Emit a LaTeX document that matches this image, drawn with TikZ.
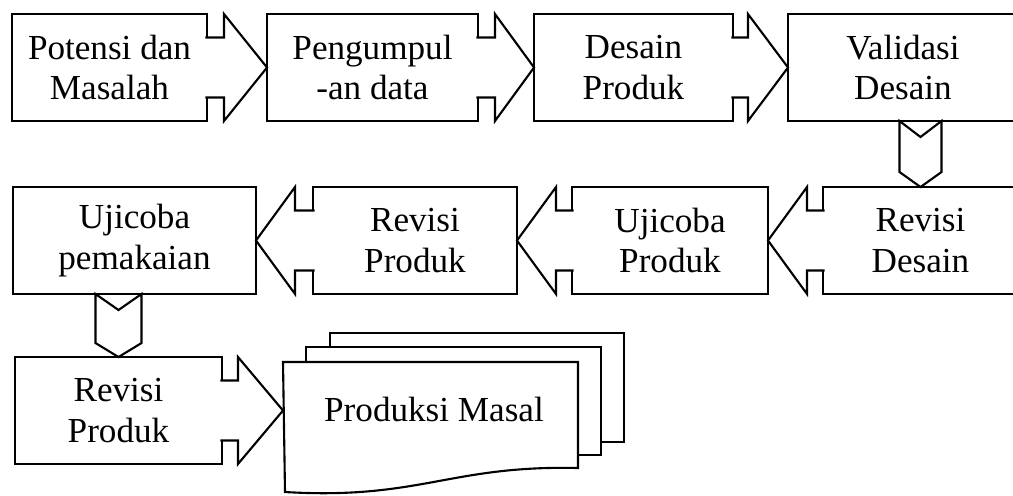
\documentclass[tikz,border=0pt]{standalone}
\usepackage{fontspec}
\setmainfont{Liberation Serif}

\begin{document}
\begin{tikzpicture}[x=0.02cm,y=-0.02cm,
  box/.style={draw,line width=1.2pt,minimum height=2.14cm,align=center,inner sep=0pt,outer sep=0pt,font=\fontsize{20}{23}\selectfont},
  conn/.style={draw,fill=white,line width=1.2pt},
  page/.style={draw,fill=white,line width=1.2pt}]
\useasboundingbox (0,0) rectangle (1013,495);
\clip (0,0) rectangle (1013,495);

\node[box,minimum width=3.9cm] (potensi) at (109.5,67.5) {Potensi dan\\Masalah};
\node[box,minimum width=4.22cm] (kumpul) at (372.5,67.5) {Pengumpul\\-an data};
\node[box,minimum width=3.98cm] (desain) at (633.5,67.5) {Desain\\Produk};
\node[box,minimum width=4.6cm] (validasi) at (903,67.5) {Validasi\\Desain};

\node[box,minimum width=4.86cm] (pakai) at (134.5,240.5) {Ujicoba\\pemakaian};
\node[box,minimum width=4.08cm] (revprod) at (415,240.5) {Revisi\\Produk};
\node[box,minimum width=3.92cm] (ujiprod) at (670,240.5) {Ujicoba\\Produk};
\node[box,minimum width=3.9cm] (revdes) at (920.5,240.5) {Revisi\\Desain};

\node[box,minimum width=4.14cm] (revprod2) at (118.5,410.5) {Revisi\\Produk};

\draw[page] (330,333) rectangle (624,442);
\draw[page] (306,347) rectangle (601,455);
\draw[page] (283,362) -- (578,362) -- (578,468) .. controls (450,465) and (420,500) .. (285,492) -- cycle;
\node[font=\fontsize{20}{23}\selectfont] (masal) at (434,409) {Produksi Masal};
\coordinate (masalin) at (283,410.5);

\draw[conn] ([shift={(-1.5,-30)}]potensi.east) -- ([shift={(17,-30)}]potensi.east) -- ([shift={(17,-53.5)}]potensi.east) -- (kumpul.west)
  -- ([shift={(17,53.5)}]potensi.east) -- ([shift={(17,30)}]potensi.east) -- ([shift={(-1.5,30)}]potensi.east);
\draw[conn] ([shift={(-1.5,-30)}]kumpul.east) -- ([shift={(17,-30)}]kumpul.east) -- ([shift={(17,-53.5)}]kumpul.east) -- (desain.west)
  -- ([shift={(17,53.5)}]kumpul.east) -- ([shift={(17,30)}]kumpul.east) -- ([shift={(-1.5,30)}]kumpul.east);
\draw[conn] ([shift={(-1.5,-30)}]desain.east) -- ([shift={(15,-30)}]desain.east) -- ([shift={(15,-53.5)}]desain.east) -- (validasi.west)
  -- ([shift={(15,53.5)}]desain.east) -- ([shift={(15,30)}]desain.east) -- ([shift={(-1.5,30)}]desain.east);

\coordinate (v1) at (validasi.south -| revdes.north);
\draw[conn] ([shift={(-21,0)}]v1) -- ([shift={(0,16)}]v1) -- ([shift={(21,0)}]v1) -- ([shift={(21,-15)}]revdes.north)
  -- (revdes.north) -- ([shift={(-21,-15)}]revdes.north) -- cycle;

\draw[conn] ([shift={(1.5,-30)}]revdes.west) -- ([shift={(-16,-30)}]revdes.west) -- ([shift={(-16,-53.5)}]revdes.west) -- (ujiprod.east)
  -- ([shift={(-16,53.5)}]revdes.west) -- ([shift={(-16,30)}]revdes.west) -- ([shift={(1.5,30)}]revdes.west);
\draw[conn] ([shift={(1.5,-30)}]ujiprod.west) -- ([shift={(-16,-30)}]ujiprod.west) -- ([shift={(-16,-53.5)}]ujiprod.west) -- (revprod.east)
  -- ([shift={(-16,53.5)}]ujiprod.west) -- ([shift={(-16,30)}]ujiprod.west) -- ([shift={(1.5,30)}]ujiprod.west);
\draw[conn] ([shift={(1.5,-30)}]revprod.west) -- ([shift={(-18,-30)}]revprod.west) -- ([shift={(-18,-53.5)}]revprod.west) -- (pakai.east)
  -- ([shift={(-18,53.5)}]revprod.west) -- ([shift={(-18,30)}]revprod.west) -- ([shift={(1.5,30)}]revprod.west);

\coordinate (v2) at (pakai.south -| revprod2.north);
\draw[conn] ([shift={(-23,0)}]v2) -- ([shift={(0,16)}]v2) -- ([shift={(23,0)}]v2) -- ([shift={(23,-14)}]revprod2.north)
  -- (revprod2.north) -- ([shift={(-23,-14)}]revprod2.north) -- cycle;

\draw[conn] ([shift={(-1.5,-30)}]revprod2.east) -- ([shift={(16,-30)}]revprod2.east) -- ([shift={(16,-53.5)}]revprod2.east) -- (masalin)
  -- ([shift={(16,53.5)}]revprod2.east) -- ([shift={(16,30)}]revprod2.east) -- ([shift={(-1.5,30)}]revprod2.east);
\end{tikzpicture}
\end{document}
